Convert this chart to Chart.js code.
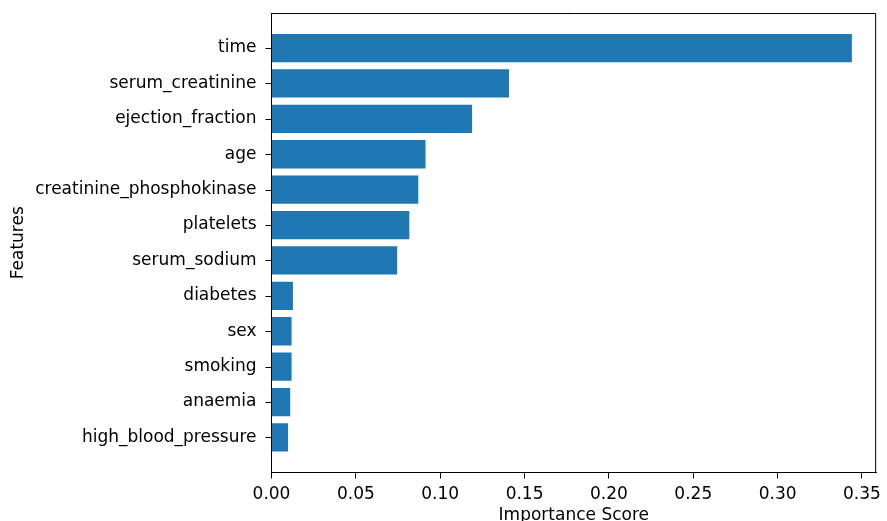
<!DOCTYPE html>
<html lang="en">
<head>
    <meta charset="UTF-8">
    <title>Feature Importance</title>
    <script src="https://cdn.jsdelivr.net/npm/chart.js"></script>
    <style>
        html, body { margin: 0; padding: 0; background: #fff; }
        #wrap { width: 887px; height: 521px; }
    </style>
</head>
<body>
    <div id="wrap"><canvas id="importanceChart"></canvas></div>

    <script>
        // Feature importances, top to bottom as shown
        const features = ['time', 'serum_creatinine', 'ejection_fraction', 'age',
            'creatinine_phosphokinase', 'platelets', 'serum_sodium', 'diabetes',
            'sex', 'smoking', 'anaemia', 'high_blood_pressure'];
        const scores = [0.344, 0.1408, 0.1189, 0.0913, 0.0870, 0.0817, 0.0745,
            0.0127, 0.0119, 0.0119, 0.0111, 0.0098];
        const xTicks = [0.00, 0.05, 0.10, 0.15, 0.20, 0.25, 0.30, 0.35];

        const n = features.length;
        // row position counted from the bottom, as matplotlib barh does
        const rowOf = i => n - 1 - i;

        Chart.defaults.font.family = 'DejaVu Sans';
        Chart.defaults.font.size = 17;
        Chart.defaults.color = '#000';

        // top/right spines and the y tick marks, matplotlib style
        const frame = {
            id: 'frame',
            afterDraw(chart) {
                const { ctx, chartArea: a } = chart;
                const ys = chart.scales.y;
                ctx.save();
                ctx.strokeStyle = '#000';
                ctx.lineWidth = 1;
                ctx.beginPath();
                ctx.moveTo(a.left, a.top + 0.5);
                ctx.lineTo(a.right - 0.5, a.top + 0.5);
                ctx.lineTo(a.right - 0.5, a.bottom);
                ys.ticks.forEach(t => {
                    const py = Math.round(ys.getPixelForValue(t.value)) + 0.5;
                    ctx.moveTo(a.left - 6, py);
                    ctx.lineTo(a.left, py);
                });
                ctx.stroke();
                ctx.restore();
            }
        };

        new Chart(document.getElementById('importanceChart'), {
            type: 'bar',
            data: {
                datasets: [{
                    data: scores.map((v, i) => ({ x: v, y: rowOf(i) })),
                    backgroundColor: '#1f77b4',
                    categoryPercentage: 1,
                    barPercentage: 0.8
                }]
            },
            options: {
                indexAxis: 'y',
                responsive: true,
                maintainAspectRatio: false,
                animation: false,
                layout: { padding: { top: 13, right: 4, left: 0, bottom: 0 } },
                plugins: { legend: { display: false }, tooltip: { enabled: false } },
                scales: {
                    y: {
                        type: 'linear',
                        offset: false,
                        min: -0.99,
                        max: n - 1 + 0.99,
                        afterBuildTicks: s => { s.ticks = features.map((_, i) => ({ value: rowOf(i) })); },
                        afterFit: s => { s.width = 271.5; s.paddingTop = 0; s.paddingBottom = 0; },
                        ticks: {
                            padding: 7,
                            callback: v => features[rowOf(v)]
                        },
                        grid: { display: false },
                        border: { display: true, color: '#000', width: 1 },
                        title: { display: true, text: 'Features', padding: { top: 8, bottom: 0 } }
                    },
                    x: {
                        min: 0,
                        max: 0.3584,
                        afterBuildTicks: s => { s.ticks = xTicks.map(v => ({ value: v })); },
                        afterFit: s => { s.height = 48.5; },
                        ticks: {
                            padding: 6,
                            maxRotation: 0,
                            callback: v => v.toFixed(2)
                        },
                        grid: { drawOnChartArea: false, drawTicks: true, tickLength: 6, color: '#000' },
                        border: { display: true, color: '#000', width: 1 },
                        title: { display: true, text: 'Importance Score', padding: { top: 0, bottom: -5 } }
                    }
                }
            },
            plugins: [frame]
        });
    </script>
</body>
</html>
